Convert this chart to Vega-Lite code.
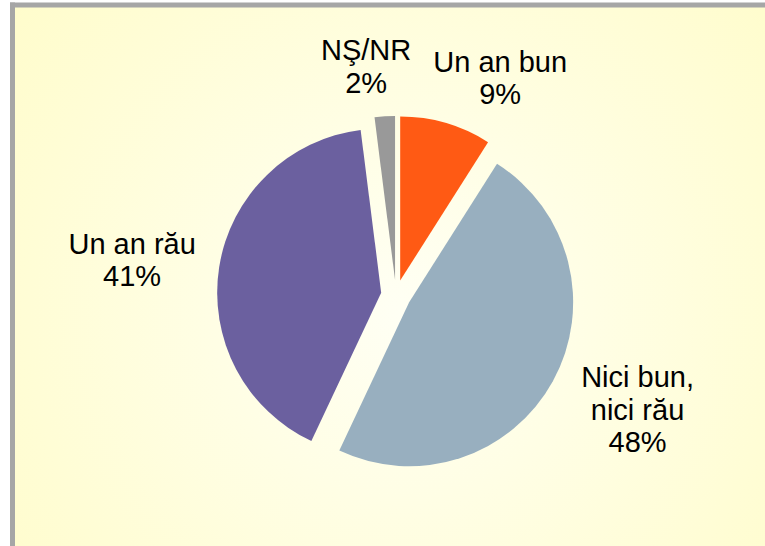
{
  "$schema": "https://vega.github.io/schema/vega-lite/v6.json",
  "width": 752.5,
  "height": 541,
  "autosize": {"type": "none"},
  "padding": {"left": 12.5, "top": 5, "right": 0, "bottom": 0},
  "background": "#FFFFFF",
  "config": {"view": {"stroke": null}},
  "layer": [
    {
      "data": {"values": [{"bg": 1}]},
      "mark": {
        "type": "rect",
        "fill": {
          "gradient": "radial",
          "x1": 0.52, "y1": 0.55, "r1": 0,
          "x2": 0.52, "y2": 0.55, "r2": 0.75,
          "stops": [
            {"offset": 0, "color": "#FFFFF4"},
            {"offset": 1, "color": "#FFFCC6"}
          ]
        }
      },
      "encoding": {
        "x": {"value": 0},
        "x2": {"value": "width"},
        "y": {"value": 0},
        "y2": {"value": "height"}
      }
    },
    {
      "data": {"values": [{"edge": "left"}]},
      "mark": {"type": "rule", "color": "#A6A6A6", "strokeWidth": 5},
      "encoding": {
        "x": {"value": 0},
        "y": {"value": -2.5},
        "y2": {"value": "height"}
      }
    },
    {
      "data": {"values": [{"edge": "top"}]},
      "mark": {"type": "rule", "color": "#A6A6A6", "strokeWidth": 5},
      "encoding": {
        "y": {"value": 0},
        "x": {"value": -2.5},
        "x2": {"value": "width"}
      }
    },
    {
      "data": {"name": "pie", "values": [
        {"o": 1, "cat": "Un an bun", "pct": 9, "label": "Un an bun\n9%"},
        {"o": 2, "cat": "Nici bun, nici rău", "pct": 48, "label": "Nici bun,\nnici rău\n48%"},
        {"o": 3, "cat": "Un an rău", "pct": 41, "label": "Un an rău\n41%"},
        {"o": 4, "cat": "NŞ/NR", "pct": 2, "label": "NŞ/NR\n2%"}
      ]},
      "transform": [
        {"window": [{"op": "sum", "field": "pct", "as": "cum"}], "sort": [{"field": "o"}], "frame": [null, 0]},
        {"joinaggregate": [{"op": "sum", "field": "pct", "as": "tot"}]},
        {"calculate": "2*PI*(datum.cum - datum.pct/2)/datum.tot", "as": "mid"},
        {"calculate": "15*sin(datum.mid)", "as": "xo"},
        {"calculate": "-15*cos(datum.mid)", "as": "yo"},
        {"calculate": "230*sin(datum.mid) + (sin(datum.mid) >= 0 ? 40 : -(14 + 23*abs(sin(datum.mid))))", "as": "lx"},
        {"calculate": "(sin(datum.mid) >= 0 ? 5 : 2) - 230*cos(datum.mid) - (split(datum.label, '\\n').length - 1)*32.5/2", "as": "ly"}
      ],
      "encoding": {
        "theta": {"field": "pct", "type": "quantitative", "stack": true},
        "order": {"field": "o", "type": "quantitative"}
      },
      "layer": [
        {
          "mark": {
            "type": "arc",
            "outerRadius": 164,
            "x": {"expr": "width/2 + 7.25"},
            "y": {"expr": "height/2 + 19.5"},
            "xOffset": {"expr": "datum.xo"},
            "yOffset": {"expr": "datum.yo"}
          },
          "encoding": {
            "color": {
              "field": "cat",
              "type": "nominal",
              "scale": {
                "domain": ["Un an bun", "Nici bun, nici rău", "Un an rău", "NŞ/NR"],
                "range": ["#FF5A14", "#98AFBF", "#6B609F", "#999999"]
              },
              "legend": null
            }
          }
        },
        {
          "mark": {
            "type": "text",
            "radius": 0,
            "x": {"expr": "width/2 + 7.25"},
            "y": {"expr": "height/2 + 19.5"},
            "fontSize": 29,
            "font": "Liberation Sans",
            "lineBreak": "\n",
            "lineHeight": 32.5,
            "color": "#000000",
            "baseline": "middle",
            "align": "center",
            "xOffset": {"expr": "datum.lx"},
            "yOffset": {"expr": "datum.ly"}
          },
          "encoding": {"text": {"field": "label", "type": "nominal"}}
        }
      ]
    }
  ]
}
